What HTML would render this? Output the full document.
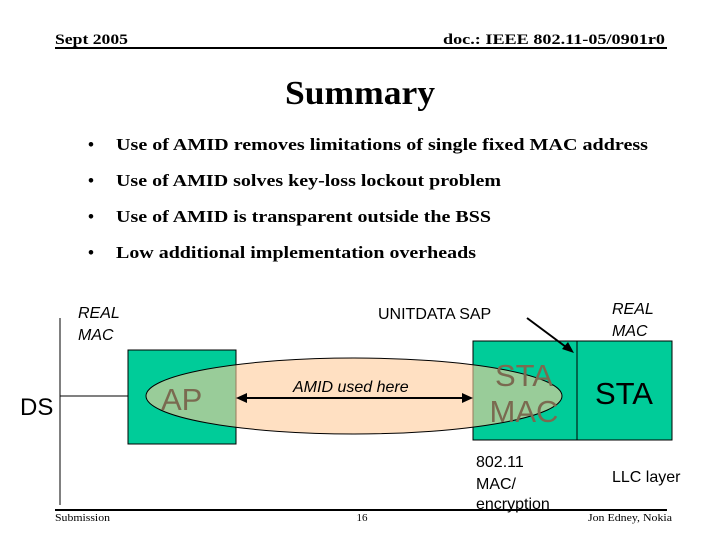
<!DOCTYPE html>
<html><head><meta charset="utf-8"><style>
body{margin:0;background:#fff}
svg{display:block}
.s{font-family:"Liberation Serif",serif}
.a{font-family:"Liberation Sans",sans-serif}
</style></head><body>
<svg width="720" height="540" viewBox="0 0 720 540" xmlns="http://www.w3.org/2000/svg">
<text x="55" y="44" class="s" font-size="15" font-weight="bold" textLength="73" lengthAdjust="spacingAndGlyphs">Sept 2005</text>
<text x="443" y="44" class="s" font-size="15" font-weight="bold" textLength="222" lengthAdjust="spacingAndGlyphs">doc.: IEEE 802.11-05/0901r0</text>
<line x1="55" y1="48" x2="667" y2="48" stroke="#000" stroke-width="2"/>
<text x="285" y="104" class="s" font-size="34" font-weight="bold" textLength="150" lengthAdjust="spacingAndGlyphs">Summary</text>
<g class="s" font-size="17" font-weight="bold">
<text x="88" y="150">•</text><text x="116" y="150" textLength="532" lengthAdjust="spacingAndGlyphs">Use of AMID removes limitations of single fixed MAC address</text>
<text x="88" y="186">•</text><text x="116" y="186" textLength="385" lengthAdjust="spacingAndGlyphs">Use of AMID solves key-loss lockout problem</text>
<text x="88" y="222">•</text><text x="116" y="222" textLength="375" lengthAdjust="spacingAndGlyphs">Use of AMID is transparent outside the BSS</text>
<text x="88" y="258">•</text><text x="116" y="258" textLength="360" lengthAdjust="spacingAndGlyphs">Low additional implementation overheads</text>
</g>
<line x1="60" y1="318" x2="60" y2="505" stroke="#000"/>
<line x1="60" y1="396" x2="128" y2="396" stroke="#000"/>
<rect x="128" y="350" width="108" height="94" fill="#00cc99" stroke="#000"/>
<rect x="473" y="341" width="104" height="99" fill="#00cc99" stroke="#000"/>
<rect x="577" y="341" width="95" height="99" fill="#00cc99" stroke="#000"/>
<ellipse cx="354" cy="396" rx="208" ry="38" fill="#ffcc99" fill-opacity="0.6" stroke="#000"/>
<line x1="244" y1="398" x2="465" y2="398" stroke="#000" stroke-width="2"/>
<polygon points="236,398 247,393 247,403" fill="#000"/>
<polygon points="473,398 462,393 462,403" fill="#000"/>
<line x1="527" y1="318" x2="570" y2="350" stroke="#000" stroke-width="2"/>
<polygon points="574,353 562,349 568,342" fill="#000"/>
<g class="a">
<text x="78" y="318" font-size="16" font-style="italic">REAL</text>
<text x="78" y="340" font-size="16" font-style="italic">MAC</text>
<text x="612" y="314" font-size="16" font-style="italic">REAL</text>
<text x="612" y="336" font-size="16" font-style="italic">MAC</text>
<text x="378" y="319" font-size="16">UNITDATA SAP</text>
<text x="20" y="415" font-size="24">DS</text>
<text x="161" y="410" font-size="31" fill="#7a6a50">AP</text>
<text x="293" y="392" font-size="16" font-style="italic">AMID used here</text>
<text x="524" y="386" font-size="31" fill="#7a6a50" text-anchor="middle">STA</text>
<text x="524" y="422" font-size="31" fill="#7a6a50" text-anchor="middle">MAC</text>
<text x="624" y="404" font-size="31" text-anchor="middle">STA</text>
<text x="476" y="467" font-size="16">802.11</text>
<text x="476" y="489" font-size="16">MAC/</text>
<text x="476" y="509" font-size="16">encryption</text>
<text x="612" y="482" font-size="16">LLC layer</text>
</g>
<line x1="55" y1="510" x2="667" y2="510" stroke="#000" stroke-width="2"/>
<text x="55" y="521" class="s" font-size="11" textLength="55" lengthAdjust="spacingAndGlyphs">Submission</text>
<text x="362" y="521" class="s" font-size="11" text-anchor="middle">16</text>
<text x="588" y="521" class="s" font-size="11" textLength="84" lengthAdjust="spacingAndGlyphs">Jon Edney, Nokia</text>
</svg>
</body></html>
